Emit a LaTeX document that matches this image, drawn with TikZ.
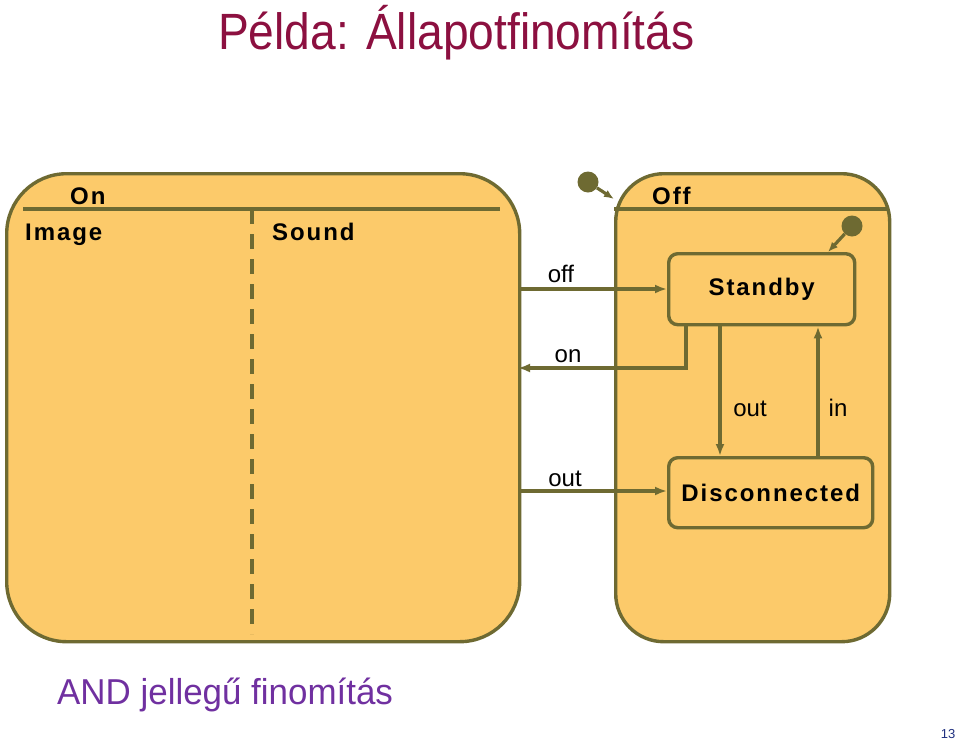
\documentclass[tikz,border=0pt]{standalone}
\usepackage{fontspec}
\setmainfont{Liberation Sans}
\newfontfamily\spacedbold[LetterSpace=8]{Liberation Sans}
\usetikzlibrary{arrows.meta}
\definecolor{statefill}{HTML}{FCCA6A}
\definecolor{stateline}{HTML}{6E6A32}
\definecolor{titlered}{HTML}{8C1040}
\definecolor{purpletext}{HTML}{7030A0}
\definecolor{pagenum}{HTML}{1F2F7F}
\tikzset{
  bigstate/.style={draw=stateline, fill=statefill, line width=3.4pt, anchor=north west, inner sep=0pt},
  smallstate/.style={draw=stateline, fill=statefill, line width=3.4pt, rounded corners=9pt, anchor=north west, inner sep=0pt,
    font=\spacedbold\bfseries\fontsize{24}{24}\selectfont},
  statename/.style={font=\spacedbold\bfseries\fontsize{24}{24}\selectfont, anchor=base west, inner sep=0pt},
  divider/.style={draw=stateline, line width=3.4pt},
  trans/.style={draw=stateline, line width=3.2pt, -{Latex[length=12pt,width=9pt]}},
  trlabel/.style={font=\fontsize{24}{24}\selectfont, inner sep=0pt, anchor=base},
  initdot/.style={circle, fill=stateline, minimum size=21pt, inner sep=0pt}
}
\begin{document}
\begin{tikzpicture}[x=1pt,y=-1pt]
\useasboundingbox (0,0) rectangle (960,745);
% title
\node[anchor=base west, inner sep=0pt, text=titlered] (title) at (218,49)
  {\scalebox{0.905}[1]{\fontsize{51}{51}\selectfont Példa: Állapotfinomítás}};
% big states
\node[bigstate, rounded corners=60pt, minimum width=513pt, minimum height=468pt] (on) at (5,172) {};
\node[bigstate, rounded corners=48pt, minimum width=274pt, minimum height=468pt] (off) at (614,172) {};
\coordinate (ondivL) at (23,209);
\coordinate (ondivR) at (500,209);
\draw[divider] (ondivL) -- (ondivR);
\coordinate (offdivL) at (614,209);
\coordinate (offdivR) at (888,209);
\draw[divider] (offdivL) -- (offdivR);
\coordinate (dashtop) at (252,209);
\coordinate (dashbot) at (252,634);
\draw[divider, dash pattern=on 15pt off 10pt] (dashtop) -- (dashbot);
% state names
\node[statename] (onname) at (70,204) {On};
\node[statename] (imagename) at (25,240) {Image};
\node[statename] (soundname) at (272,240) {Sound};
\node[statename] (offname) at (652,204) {Off};
% inner states
\node[smallstate, minimum width=186pt, minimum height=71pt] (standby) at (667,252) {Standby};
\node[smallstate, minimum width=204pt, minimum height=70pt] (disc) at (667,456) {Disconnected};
% initial states
\node[initdot] (init1) at (588,182) {};
\coordinate (init1end) at (614,199);
\draw[trans, -{Latex[length=10pt,width=8pt]}] (init1) -- (init1end);
\node[initdot] (init2) at (852,226) {};
\coordinate (init2end) at (828,252);
\draw[trans, -{Latex[length=10pt,width=8pt]}] (init2) -- (init2end);
% transitions
\coordinate (offsrc) at (518,289);
\draw[trans] (offsrc) -- (offsrc -| standby.west);
\node[trlabel] (offlbl) at (561,282) {off};
\coordinate (onstart) at (686,323);
\coordinate (onbend) at (686,368);
\coordinate (ontgt) at (518,368);
\draw[trans] (onstart) -- (onbend) -- (ontgt);
\node[trlabel] (onlbl) at (568,362) {on};
\coordinate (outa) at (720,323);
\draw[trans] (outa) -- (outa |- disc.north);
\node[trlabel] (outlbl1) at (750,416) {out};
\coordinate (ina) at (818,456);
\draw[trans] (ina) -- (ina |- standby.south);
\node[trlabel] (inlbl) at (838,416) {in};
\coordinate (outsrc) at (518,491);
\draw[trans] (outsrc) -- (outsrc -| disc.west);
\node[trlabel] (outlbl2) at (565,486) {out};
% footer
\node[anchor=base west, inner sep=0pt, text=purpletext] (andtext) at (57,704)
  {\scalebox{0.97}[1]{\fontsize{36}{36}\selectfont AND jellegű finomítás}};
\node[anchor=base, inner sep=0pt, text=pagenum, font=\rmfamily\fontsize{13}{13}\selectfont] (pnum) at (948,738) {13};
\end{tikzpicture}
\end{document}
